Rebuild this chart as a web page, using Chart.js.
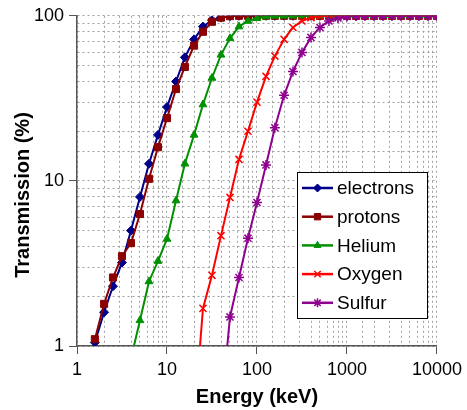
<!DOCTYPE html>
<html><head><meta charset="utf-8">
<script src="https://cdn.jsdelivr.net/npm/chart.js@4/dist/chart.umd.min.js"></script>
<style>html,body{margin:0;padding:0;background:#fff}#wrap{position:relative;width:467px;height:410px}</style>
</head><body><div id="wrap"><canvas id="c"></canvas></div>
<script>
// Energy grid (keV)
const energy = [1.58, 2.0, 2.51, 3.16, 3.98, 5.01, 6.31, 7.94, 10, 12.6, 15.8, 20, 25.1, 31.6, 39.8, 50.1, 63.1, 79.4,
  100, 126, 158, 200, 251, 316, 398, 501, 631, 794, 1000, 1260, 1580, 2000, 2510, 3160, 3980, 5010, 6310, 7940, 10000];
// Transmission (%) per species, aligned with energy (null = no point)
const electrons = [1.05, 1.6, 2.3, 3.2, 5.0, 8.0, 12.7, 19, 28, 40, 56, 72, 86, 94, 98, 99.5,
  100, 100, 100, 100, 100, 100, 100, 100, 100, 100, 100, 100, 100, 100, 100, 100, 100, 100, 100, 100, 100, 100, 100];
const protons = [1.1, 1.8, 2.6, 3.5, 4.2, 6.3, 10.3, 16, 24, 36, 49, 66, 80, 92, 97.5, 99.5,
  100, 100, 100, 100, 100, 100, 100, 100, 100, 100, 100, 100, 100, 100, 100, 100, 100, 100, 100, 100, 100, 100, 100];
const helium = [null, null, null, null, 0.84, 1.43, 2.46, 3.27, 4.45, 7.6, 12.7, 19, 29, 42, 58, 73, 86, 93, 96.6, 99, 99.8,
  100, 100, 100, 100, 100, 100, 100, 100, 100, 100, 100, 100, 100, 100, 100, 100, 100, 100];
const oxygen = [null, null, null, null, null, null, null, null, null, null, null, 0.35, 1.69, 2.68, 4.66, 7.94, 13.5, 20, 30, 43, 57, 72, 85, 93, 97.5, 99.3,
  100, 100, 100, 100, 100, 100, 100, 100, 100, 100, 100, 100, 100];
const sulfur = [null, null, null, null, null, null, null, null, null, null, null, null, null, null, 0.39, 1.5, 2.6, 4.5, 7.4, 12.5, 21, 33, 46, 60, 74, 85, 93, 97, 99, 99.7,
  100, 100, 100, 100, 100, 100, 100, 100, 100];
const seriesNames = ['electrons', 'protons', 'Helium', 'Oxygen', 'Sulfur'];
const seriesValues = [electrons, protons, helium, oxygen, sulfur];
const xTickLabels = [1, 10, 100, 1000, 10000];
const yTickLabels = [1, 10, 100];
const xTitle = 'Energy (keV)';
const yTitle = 'Transmission (%)';

const colors = ['#00008b', '#8b0000', '#009000', '#ff0000', '#8e008e'];
const styles = [
  {pointStyle: 'rectRot', radius: 4.5, bw: 1},
  {pointStyle: 'rect', radius: 5, bw: 1},
  {pointStyle: 'triangle', radius: 4.5, bw: 1},
  {pointStyle: 'crossRot', radius: 5, bw: 1.5},
  {pointStyle: 'star', radius: 5, bw: 1.5}
];

function toPoints(vals) {
  const out = [];
  vals.forEach((v, i) => { if (v !== null) out.push({x: energy[i], y: v}); });
  return out;
}

const datasets = seriesNames.map((name, i) => ({
  label: name,
  data: toPoints(seriesValues[i]),
  borderColor: colors[i],
  backgroundColor: colors[i],
  borderWidth: 2,
  pointStyle: styles[i].pointStyle,
  pointRadius: styles[i].radius,
  pointBorderWidth: styles[i].bw,
  pointBackgroundColor: colors[i],
  pointBorderColor: colors[i],
  showLine: true,
  tension: 0,
  order: seriesNames.length - i
}));

const isPow10 = v => Math.abs(Math.log10(v) - Math.round(Math.log10(v))) < 1e-9;
const FONT = "'Liberation Sans', Arial, sans-serif";

const legendPlugin = {
  id: 'boxLegend',
  afterDraw(chart) {
    const ctx = chart.ctx;
    // y-axis title
    ctx.save();
    ctx.translate(23, 195);
    ctx.rotate(-Math.PI / 2);
    ctx.fillStyle = '#000';
    ctx.font = "bold 20px " + FONT;
    ctx.textAlign = 'center';
    ctx.textBaseline = 'middle';
    ctx.fillText(yTitle, 0, 0);
    ctx.restore();

    const x0 = 297, y0 = 172, w = 130, h = 146, step = 28.7;
    ctx.save();
    ctx.fillStyle = '#fff';
    ctx.fillRect(x0, y0, w, h);
    ctx.strokeStyle = '#000';
    ctx.lineWidth = 1;
    ctx.setLineDash([]);
    ctx.strokeRect(x0 + 0.5, y0 + 0.5, w, h);
    seriesNames.forEach((name, i) => {
      const y = y0 + 16 + i * step;
      ctx.strokeStyle = colors[i];
      ctx.fillStyle = colors[i];
      ctx.lineWidth = 2.5;
      ctx.beginPath();
      ctx.moveTo(302, y); ctx.lineTo(333, y); ctx.stroke();
      ctx.lineWidth = styles[i].bw;
      if (Chart.helpers && Chart.helpers.drawPoint) {
        Chart.helpers.drawPoint(ctx, {pointStyle: styles[i].pointStyle, radius: styles[i].radius - 0.5, rotation: 0, borderWidth: styles[i].bw}, 317.5, y);
      }
      ctx.fillStyle = '#000';
      ctx.font = "19px " + FONT;
      ctx.textBaseline = 'middle';
      ctx.textAlign = 'left';
      ctx.fillText(name, 337, y + 1);
    });
    ctx.restore();
  }
};

new Chart(document.getElementById('c'), {
  type: 'scatter',
  data: {datasets},
  options: {
    responsive: true,
    maintainAspectRatio: false,
    animation: false,
    layout: {padding: {top: 14, right: 30, left: 0, bottom: 0}},
    plugins: {legend: {display: false}, tooltip: {enabled: false}},
    scales: {
      x: {
        type: 'logarithmic',
        min: 1, max: 10000,
        afterFit: s => { s.height = 64; },
        ticks: {
          autoSkip: false, maxRotation: 0, padding: 5,
          color: '#000', font: {family: FONT, size: 18},
          callback: v => xTickLabels.includes(v) ? String(v) : ''
        },
        grid: {
          color: '#a0a0a0', lineWidth: 1, drawTicks: true, tickLength: 8,
          tickColor: c => (c.tick && isPow10(c.tick.value)) ? '#555' : 'rgba(0,0,0,0)'
        },
        border: {display: true, color: '#555', width: 1.5, dash: [2, 3]},
        title: {display: true, text: xTitle, color: '#000', font: {family: FONT, size: 20, weight: 'bold'}, padding: {top: 0, bottom: 1}}
      },
      y: {
        type: 'logarithmic',
        min: 1, max: 100,
        afterFit: s => { s.width = 77; },
        ticks: {
          autoSkip: false, padding: 5,
          color: '#000', font: {family: FONT, size: 18},
          callback: v => yTickLabels.includes(v) ? String(v) : ''
        },
        grid: {
          color: '#a0a0a0', lineWidth: 1, drawTicks: true, tickLength: 8,
          tickColor: c => (c.tick && isPow10(c.tick.value)) ? '#555' : 'rgba(0,0,0,0)'
        },
        border: {display: true, color: '#555', width: 1.5, dash: [2, 3]},
        title: {display: false}
      }
    }
  },
  plugins: [legendPlugin]
});
</script>
</body></html>
